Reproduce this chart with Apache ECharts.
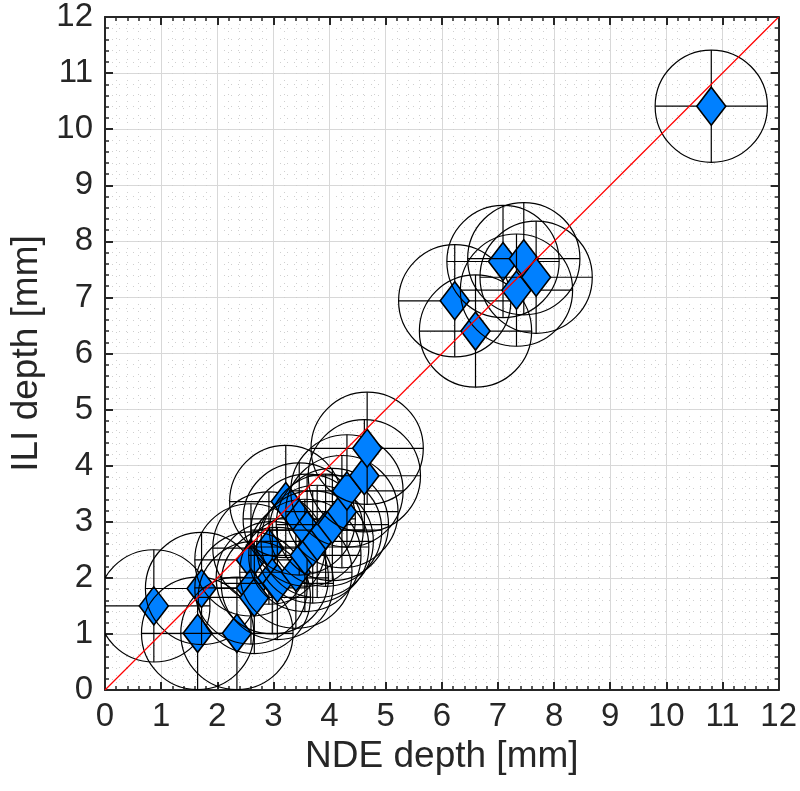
<!DOCTYPE html>
<html>
<head>
<meta charset="utf-8">
<script src="https://cdn.jsdelivr.net/npm/echarts@6/dist/echarts.min.js"></script>
<style>
html,body{margin:0;padding:0;background:#fff;}
#chart{width:800px;height:791px;}
</style>
</head>
<body>
<div id="chart"></div>
<script>
// NDE depth (x) and ILI depth (y), mm
const ndeDepth = [0.87, 1.65, 1.72, 2.35, 2.60, 2.92, 2.60, 2.66, 2.98, 3.07, 3.40, 3.22, 3.46, 3.56, 3.60, 3.70, 3.78, 3.93, 4.05, 4.22, 4.31, 4.62, 4.67, 6.23, 6.60, 7.09, 7.46, 7.33, 7.68, 10.80];
const iliDepth = [1.50, 1.01, 1.81, 1.01, 2.32, 2.53, 1.82, 1.65, 2.00, 1.90, 2.10, 3.36, 3.05, 2.40, 2.85, 2.55, 2.65, 2.85, 2.95, 3.18, 3.55, 3.82, 4.31, 6.94, 6.40, 7.64, 7.69, 7.13, 7.36, 10.41];
const uncertainty = 1; // +/- mm (error bars and circle radius)
const identityLine = [0, 12];
const axisTicks = ['0','1','2','3','4','5','6','7','8','9','10','11','12'];

const points = ndeDepth.map((x, i) => [x, iliDepth[i]]);
const font = '"Liberation Sans"';
const txt = '#262626';

function axisCommon(showLabel, pos) {
  return {
    type: 'value', min: 0, max: 12, interval: 1, position: pos,
    axisLine: {show: true, onZero: false, lineStyle: {color: txt, width: 2}},
    axisTick: {show: true, inside: true, length: 8, lineStyle: {color: txt, width: 2}},
    minorTick: {show: true, splitNumber: 5, length: 4, lineStyle: {color: txt, width: 1.5}},
    axisLabel: {show: showLabel, color: txt, fontFamily: font, fontSize: 33,
      formatter: v => axisTicks[Math.round(v)]},
    splitLine: {show: showLabel, lineStyle: {color: '#d8d8d8', width: 1}},
    minorSplitLine: {show: showLabel, lineStyle: {color: '#cfcfcf', width: 1, type: [1, 6]}}
  };
}

const chart = echarts.init(document.getElementById('chart'), null, {renderer: 'canvas'});
const xMain = Object.assign(axisCommon(true, 'bottom'), {
  name: 'NDE depth [mm]', nameLocation: 'middle', nameGap: 34,
  nameTextStyle: {color: txt, fontFamily: font, fontSize: 37},
  axisLabel: {show: true, color: txt, fontFamily: font, fontSize: 33, margin: 10,
    formatter: v => axisTicks[Math.round(v)]}
});
const yMain = Object.assign(axisCommon(true, 'left'), {
  name: 'ILI depth [mm]', nameLocation: 'middle', nameGap: 56,
  nameTextStyle: {color: txt, fontFamily: font, fontSize: 37},
  axisLabel: {show: true, color: txt, fontFamily: font, fontSize: 33, margin: 12,
    formatter: v => axisTicks[Math.round(v)]}
});
const option = {
  backgroundColor: '#fff',
  animation: false,
  grid: {left: 105, right: 18, top: 17, bottom: 101, containLabel: false},
  xAxis: [xMain, axisCommon(false, 'top')],
  yAxis: [yMain, axisCommon(false, 'right')],
  series: [
    {
      type: 'custom',
      clip: true,
      xAxisIndex: 0, yAxisIndex: 0,
      data: points,
      z: 2,
      renderItem: function (params, api) {
        const x = api.value(0), y = api.value(1);
        const c = api.coord([x, y]);
        const l = api.coord([x - uncertainty, y]);
        const r = api.coord([x + uncertainty, y]);
        const t = api.coord([x, y + uncertainty]);
        const b = api.coord([x, y - uncertainty]);
        const rad = (r[0] - l[0]) / 2;
        const hw = 14.5, hh = 19;
        return {
          type: 'group',
          children: [
            {type: 'circle', shape: {cx: c[0], cy: c[1], r: rad},
              style: {fill: null, stroke: '#000', lineWidth: 1.2}},
            {type: 'line', shape: {x1: l[0], y1: l[1], x2: r[0], y2: r[1]},
              style: {stroke: '#000', lineWidth: 1.2}},
            {type: 'line', shape: {x1: t[0], y1: t[1], x2: b[0], y2: b[1]},
              style: {stroke: '#000', lineWidth: 1.2}},
            {type: 'polygon', shape: {points: [[c[0], c[1] - hh], [c[0] + hw, c[1]], [c[0], c[1] + hh], [c[0] - hw, c[1]]]},
              style: {fill: '#0080ff', stroke: '#000', lineWidth: 1.6}}
          ]
        };
      }
    },
    {
      type: 'line',
      xAxisIndex: 0, yAxisIndex: 0,
      data: identityLine.map(v => [v, v]),
      symbol: 'none',
      z: 5,
      lineStyle: {color: '#ff0000', width: 1.2}
    }
  ]
};
chart.setOption(option);
</script>
</body>
</html>
